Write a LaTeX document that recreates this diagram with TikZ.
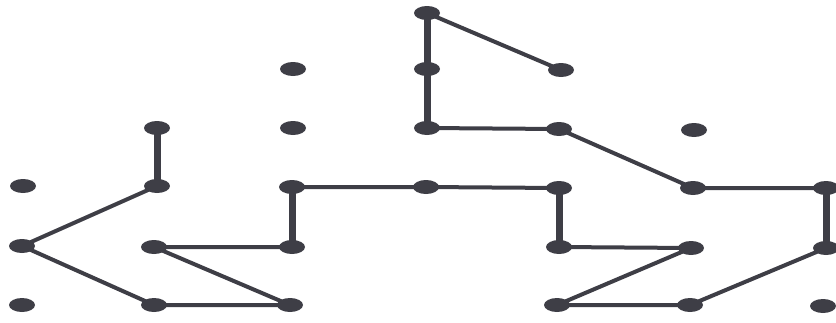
\documentclass[tikz,border=0pt]{standalone}
\usetikzlibrary{shapes.geometric,backgrounds}
\definecolor{ink}{HTML}{3E3E46}
\tikzset{
  dot/.style={ellipse,fill=ink,draw=none,minimum width=26pt,minimum height=14pt,inner sep=0pt},
  thin/.style={draw=ink,line width=4pt},
  thick/.style={draw=ink,line width=7pt}
}
\begin{document}
\begin{tikzpicture}[x=1pt,y=-1pt]
\useasboundingbox (0,0) rectangle (836,322);
% row 1
\node[dot] (t1) at (427,13) {};
% row 2
\node[dot] (b2) at (293,69) {};
\node[dot] (c2) at (427,69) {};
\node[dot] (d2) at (561,70) {};
% row 3
\node[dot] (a3) at (157,128) {};
\node[dot] (b3) at (293,128) {};
\node[dot] (c3) at (427,128) {};
\node[dot] (d3) at (559,129) {};
\node[dot] (e3) at (694,130) {};
% row 4
\node[dot] (z4) at (23,186) {};
\node[dot] (a4) at (157,186) {};
\node[dot] (b4) at (292,187) {};
\node[dot] (c4) at (426,187) {};
\node[dot] (d4) at (559,188) {};
\node[dot] (e4) at (693,188) {};
\node[dot] (f4) at (826,188) {};
% row 5
\node[dot] (z5) at (22,246) {};
\node[dot] (a5) at (154,247) {};
\node[dot] (b5) at (292,247) {};
\node[dot] (d5) at (559,247) {};
\node[dot] (e5) at (691,248) {};
\node[dot] (f5) at (826,248) {};
% row 6
\node[dot] (z6) at (22,305) {};
\node[dot] (a6) at (154,305) {};
\node[dot] (b6) at (290,305) {};
\node[dot] (d6) at (557,305) {};
\node[dot] (e6) at (690,305) {};
\node[dot] (f6) at (823,306) {};
\begin{scope}[on background layer]
  \draw[thick] (t1.center) -- (c2.center) -- (c3.center);
  \draw[thin] (t1.center) -- (d2.center);
  \draw[thin] (c3.center) -- (d3.center) -- (e4.center) -- (f4.center);
  \draw[thick] (f4.center) -- (f5.center);
  \draw[thin] (f5.center) -- (e6.center) -- (d6.center) -- (e5.center) -- (d5.center);
  \draw[thick] (d5.center) -- (d4.center);
  \draw[thin] (d4.center) -- (c4.center) -- (b4.center);
  \draw[thick] (b4.center) -- (b5.center);
  \draw[thin] (b5.center) -- (a5.center) -- (b6.center) -- (a6.center) -- (z5.center) -- (a4.center);
  \draw[thick] (a4.center) -- (a3.center);
\end{scope}
\end{tikzpicture}
\end{document}
